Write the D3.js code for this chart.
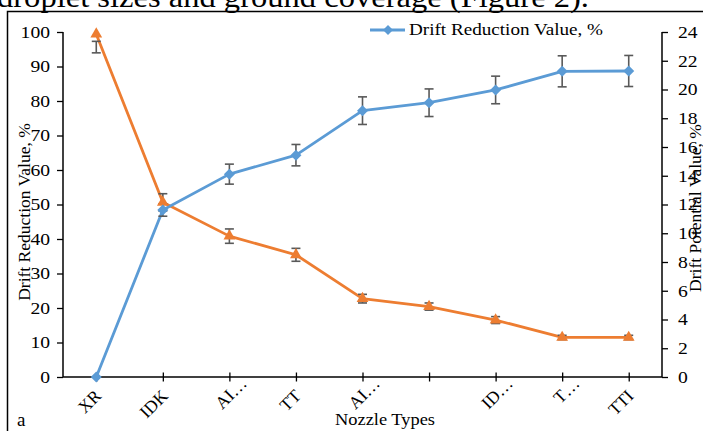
<!DOCTYPE html>
<html><head><meta charset="utf-8">
<script src="https://cdn.jsdelivr.net/npm/d3@7"></script>
<style>
html,body{margin:0;padding:0;background:#fff;}
svg{display:block;}
svg text{font-family:"Liberation Serif","Times New Roman",serif !important;fill:#000;}
</style></head>
<body>
<script>
const categories = ["XR","IDK","AI…","TT","AI…","","ID…","T…","TTI"];
const driftReduction = [0, 48.4, 58.8, 64.3, 77.2, 79.5, 83.2, 88.6, 88.7];
const driftReductionErr = [0, 1.8, 2.9, 3.1, 4.0, 4.0, 4.0, 4.5, 4.5];
const driftPotential = [23.85, 12.15, 9.8, 8.5, 5.45, 4.9, 3.96, 2.75, 2.75];
const driftPotentialErrLow = [22.55, 11.55, 9.3, 8.05, 5.15, 4.65, 3.72, 2.6, 2.6];
const driftPotentialErrHigh = [23.35, 12.75, 10.3, 8.95, 5.75, 5.15, 4.2, 2.9, 2.9];
const leftTicks = [0,10,20,30,40,50,60,70,80,90,100];
const rightTicks = [0,2,4,6,8,10,12,14,16,18,20,22,24];

const W = 703, H = 431;
const svg = d3.select("body").append("svg").attr("width", W).attr("height", H);

// cropped page text above the figure
svg.append("text").attr("x", -3).attr("y", 6.5).attr("font-size", 29)
  .attr("textLength", 592).attr("lengthAdjust", "spacingAndGlyphs")
  .text("droplet sizes and ground coverage (Figure 2).");

// figure frame
svg.append("path").attr("d", `M7.5,${H+2}V11.5H${W+2}`).attr("fill","none")
  .attr("stroke","#000").attr("stroke-width",1.5);

const L = 63, R = 662, T = 32, B = 377;
const x = d3.scalePoint().domain(d3.range(categories.length)).range([L, R]).padding(0.5);
const yL = d3.scaleLinear().domain([0,100]).range([B, T]);
const yR = d3.scaleLinear().domain([0,24]).range([B, T]);

const blue = "#5B9BD5", orange = "#ED7D31", errC = "#595959";

const gL = svg.append("g").attr("transform", `translate(${L},0)`)
  .call(d3.axisLeft(yL).tickValues(leftTicks).tickSize(6).tickPadding(7));
const gR = svg.append("g").attr("transform", `translate(${R},0)`)
  .call(d3.axisRight(yR).tickValues(rightTicks).tickSize(6).tickPadding(10));
const gB = svg.append("g").attr("transform", `translate(0,${B})`)
  .call(d3.axisBottom(x).tickSize(0).tickFormat(i => categories[i]));
[gL,gR,gB].forEach(g => {
  g.select(".domain").attr("stroke","#000").attr("stroke-width",1.5);
  g.selectAll(".tick line").attr("stroke","#000").attr("stroke-width",1.3);
  g.selectAll("text").attr("font-size",17).attr("fill","#000");
});
[gL,gR].forEach(g => g.selectAll(".tick text")
  .attr("textLength", d => String(d).length * 9.8).attr("lengthAdjust","spacingAndGlyphs"));
gL.select(".domain").attr("d", `M0,${B}V${T}`);
gR.select(".domain").attr("d", `M0,${B}V${T}`);
gB.select(".domain").attr("d", `M${L},0H${R}`);
gB.selectAll(".tick line").attr("y1",-4.5).attr("y2",4.5);
gB.selectAll(".tick text")
  .attr("font-size",17.5)
  .attr("text-anchor","end")
  .attr("transform","translate(5.5,20) rotate(-45)")
  .attr("dy",0).attr("y",0)
  .each(function() {
    const s = this.textContent;
    // truncated labels: the ellipsis hangs past the anchor point
    if (s.endsWith("…")) d3.select(this).attr("dx", this.getSubStringLength(s.length-1, 1));
  });

// axis titles
svg.append("text").attr("transform", `translate(30,212) rotate(-90)`)
  .attr("text-anchor","middle").attr("font-size",17.5).text("Drift Reduction Value, %");
svg.append("text").attr("transform", `translate(701,208) rotate(-90)`)
  .attr("text-anchor","middle").attr("font-size",17.5).text("Drift Potential Value, %");
svg.append("text").attr("x", 335).attr("y", 424.5)
  .attr("font-size",17).attr("textLength",100).attr("lengthAdjust","spacingAndGlyphs")
  .text("Nozzle Types");
svg.append("text").attr("x", 17).attr("y", 426).attr("font-size",19).text("a");

const idx = d3.range(categories.length);
svg.append("path").datum(idx)
  .attr("d", d3.line().x(i => x(i)).y(i => yR(driftPotential[i])))
  .attr("fill","none").attr("stroke",orange).attr("stroke-width",2.8).attr("stroke-linejoin","round");
svg.append("path").datum(idx)
  .attr("d", d3.line().x(i => x(i)).y(i => yL(driftReduction[i])))
  .attr("fill","none").attr("stroke",blue).attr("stroke-width",2.8).attr("stroke-linejoin","round");

function errBar(cx, y1, y2) {
  const g = svg.append("g").attr("stroke", errC).attr("stroke-width",1.6);
  g.append("line").attr("x1",cx).attr("x2",cx).attr("y1",y1).attr("y2",y2);
  g.append("line").attr("x1",cx-4.5).attr("x2",cx+4.5).attr("y1",y1).attr("y2",y1);
  g.append("line").attr("x1",cx-4.5).attr("x2",cx+4.5).attr("y1",y2).attr("y2",y2);
}
idx.forEach(i => {
  if (driftReductionErr[i] > 0)
    errBar(x(i), yL(driftReduction[i]+driftReductionErr[i]), yL(driftReduction[i]-driftReductionErr[i]));
  errBar(x(i), yR(driftPotentialErrHigh[i]), yR(driftPotentialErrLow[i]));
});

const tri = d3.symbol().type(d3.symbolTriangle).size(60);
const dia = (cx, cy, r) => `M${cx},${cy-r}L${cx+r},${cy}L${cx},${cy+r}L${cx-r},${cy}Z`;
idx.forEach(i => {
  svg.append("path").attr("d", tri()).attr("fill", orange)
    .attr("transform", `translate(${x(i)},${yR(driftPotential[i])})`);
  svg.append("path").attr("d", dia(x(i), yL(driftReduction[i]), 5.5)).attr("fill", blue);
});

// legend
svg.append("line").attr("x1",370).attr("x2",405).attr("y1",30).attr("y2",30)
  .attr("stroke",blue).attr("stroke-width",2.8);
svg.append("path").attr("d", dia(388,30,5)).attr("fill",blue);
svg.append("text").attr("x",409).attr("y",34.5).attr("font-size",17)
  .attr("textLength",194).attr("lengthAdjust","spacingAndGlyphs").text("Drift Reduction Value, %");
</script>
</body></html>
